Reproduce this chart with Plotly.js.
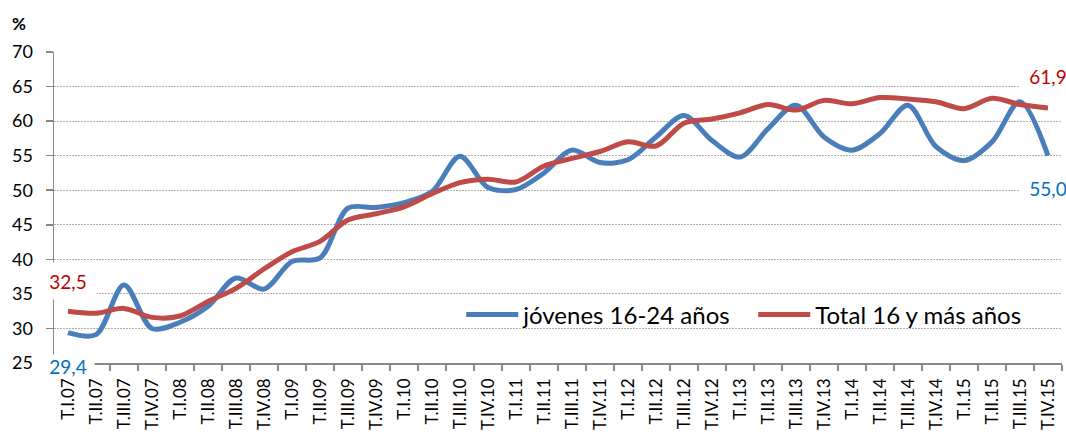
<!DOCTYPE html>
<html><head><meta charset="utf-8">
<script src="https://cdn.plot.ly/plotly-3.0.1.min.js"></script>
<style>html,body{margin:0;padding:0;background:#fff;}#chart{width:1066px;height:434px;}</style>
</head><body><div id="chart"></div>
<script>
const categories = ["T.I.07","T.II.07","T.III.07","T.IV.07","T.I.08","T.II.08","T.III.08","T.IV.08","T.I.09","T.II.09","T.III.09","T.IV.09","T.I.10","T.II.10","T.III.10","T.IV.10","T.I.11","T.II.11","T.III.11","T.IV.11","T.I.12","T.II.12","T.III.12","T.IV.12","T.I.13","T.II.13","T.III.13","T.IV.13","T.I.14","T.II.14","T.III.14","T.IV.14","T.I.15","T.II.15","T.III.15","T.IV.15"];
const jovenes = [29.4,29.1,36.3,30.0,30.9,33.2,37.3,35.7,39.7,40.2,47.4,47.5,48.2,49.8,54.9,50.4,50.1,52.5,55.8,54.0,54.4,57.7,60.8,57.2,54.8,58.9,62.3,57.7,55.8,58.2,62.3,56.3,54.3,57.0,62.8,55.0];
const total = [32.5,32.2,32.9,31.6,31.8,33.9,35.8,38.6,41.1,42.6,45.7,46.6,47.6,49.5,51.1,51.6,51.2,53.5,54.6,55.6,57.0,56.4,59.7,60.3,61.2,62.4,61.6,63.0,62.5,63.4,63.2,62.8,61.8,63.3,62.4,61.9];
const seriesNames = ["jóvenes 16-24 años","Total 16 y más años"];
const fmt = v => v.toFixed(1).replace('.', ',');
const last = categories.length - 1;
const FONT = "Lato, 'Open Sans', sans-serif";

const traces = [
  {x: categories, y: jovenes, name: seriesNames[0], type: 'scatter', mode: 'lines',
   line: {color: '#4a7ebb', width: 5, shape: 'spline', smoothing: 0.9}},
  {x: categories, y: total, name: seriesNames[1], type: 'scatter', mode: 'lines',
   line: {color: '#be4b48', width: 5, shape: 'spline', smoothing: 0.9}}
];

const lab = (xi, v, color, shift, w, h) => ({
  x: categories[xi], y: v, xref: 'x', yref: 'y', text: fmt(v), showarrow: false,
  xanchor: 'center', yanchor: 'middle',
  yshift: shift, font: {family: FONT, size: 19, color: color},
  bgcolor: '#ffffff', borderpad: 0, width: w, height: h
});

const layout = {
  width: 1066, height: 434,
  margin: {l: 54, r: 4, t: 52, b: 71, autoexpand: false},
  paper_bgcolor: '#ffffff', plot_bgcolor: '#ffffff',
  font: {family: FONT, color: '#000'},
  showlegend: true,
  legend: {orientation: 'h', x: 0.404, xanchor: 'left', y: 0.155, yanchor: 'middle',
           bgcolor: 'rgba(0,0,0,0)', font: {family: FONT, size: 24, color: '#000'},
           itemwidth: 52, entrywidth: 225, entrywidthmode: 'pixels', traceorder: 'normal'},
  xaxis: {type: 'category', range: [-0.5, last + 0.5], autorange: false,
          tickson: 'boundaries', ticks: 'outside', ticklen: 6,
          tickcolor: '#868686', tickwidth: 1.5, showline: true, linecolor: '#868686', linewidth: 1.5,
          showgrid: false, tickangle: -90, tickfont: {family: FONT, size: 17, color: '#000'},
          ticklabelstandoff: 7, fixedrange: true, automargin: false},
  yaxis: {range: [25, 70], autorange: false, dtick: 5, tick0: 25, ticks: 'outside', ticklen: 7,
          tickcolor: '#868686', tickwidth: 1.5, showline: true, linecolor: '#868686', linewidth: 1.5,
          showgrid: true, gridcolor: '#b0b0b0', gridwidth: 1, griddash: '1.5px,1.5px',
          zeroline: false, tickfont: {family: FONT, size: 18, color: '#000'},
          ticklabelstandoff: 9, fixedrange: true, automargin: false},
  annotations: [
    {text: '<b>%</b>', xref: 'paper', yref: 'paper', x: -0.035, y: 1.092,
     xanchor: 'center', yanchor: 'middle', showarrow: false,
     font: {family: FONT, size: 17, color: '#000'}},
    lab(0, total[0], '#c00000', 30, 56, 36),
    lab(0, jovenes[0], '#0070c0', -33, 52, 22),
    lab(last, total[last], '#c00000', 32, 56, 30),
    lab(last, jovenes[last], '#0070c0', -32, 56, 30)
  ]
};

Plotly.newPlot('chart', traces, layout, {displayModeBar: false, staticPlot: true});
</script></body></html>
